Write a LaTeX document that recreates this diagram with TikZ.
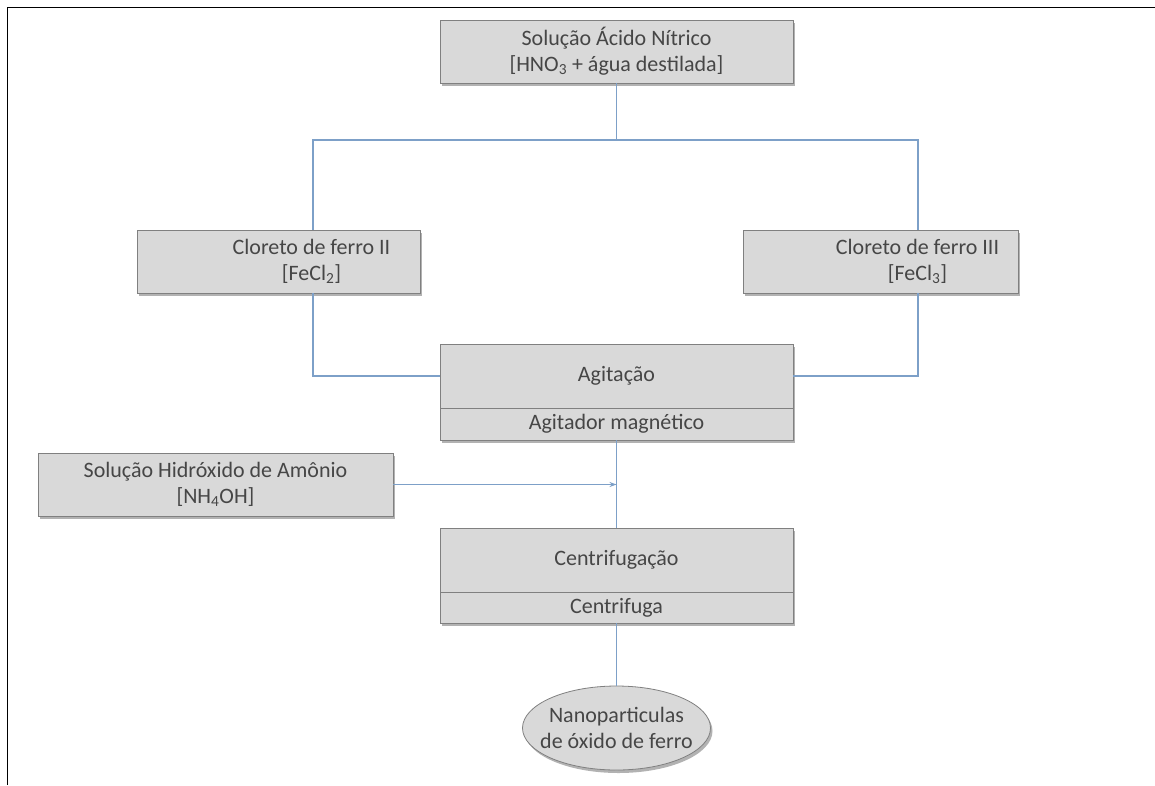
\documentclass[tikz,border=0pt]{standalone}
\usepackage{fontspec}
\setmainfont{Carlito}
\usetikzlibrary{shapes.geometric,shadows,arrows.meta}
\definecolor{boxfill}{RGB}{217,217,217}
\definecolor{boxdraw}{RGB}{128,128,128}
\definecolor{linkc}{RGB}{125,160,200}
\definecolor{txt}{RGB}{70,70,70}
\tikzset{
  boxsh/.style={drop shadow={shadow xshift=2pt,shadow yshift=-3pt,fill=black!60,opacity=0.5}},
  boxfont/.style={font=\fontsize{22}{26}\selectfont},
  procbox/.style={rectangle,draw=boxdraw,line width=0.8pt,fill=boxfill,boxsh,text=txt,align=center,inner sep=0pt,boxfont},
  inlabel/.style={text=txt,align=center,boxfont},
  link/.style={draw=linkc,line width=1.2pt},
}
\begin{document}
\begin{tikzpicture}[x=1pt,y=-1pt]
\useasboundingbox (0,0) rectangle (1155,785);
% frame
\draw[black,line width=1.6pt] (7.5,785) -- (7.5,7.5) -- (1155,7.5);
% nodes
\node[procbox,minimum width=353pt,minimum height=63pt] (acid) at (616.5,51.5) {Solução Ácido Nítrico\\{[}HNO\textsubscript{3} + água destilada{]}};
\node[procbox,minimum width=283pt,minimum height=63pt,label={[inlabel,xshift=33pt]center:Cloreto de ferro II\\{[}FeCl\textsubscript{2}{]}}] (fe2) at (278.5,261.5) {};
\node[procbox,minimum width=275pt,minimum height=63pt,label={[inlabel,xshift=37pt]center:Cloreto de ferro III\\{[}FeCl\textsubscript{3}{]}}] (fe3) at (880.5,261.5) {};
\node[procbox,minimum width=353pt,minimum height=64pt] (agit) at (616.5,376) {Agitação};
\node[procbox,minimum width=353pt,minimum height=32pt] (agitsub) at (616.5,424) {Agitador magnético};
\node[procbox,minimum width=355pt,minimum height=63pt] (nh4) at (215.5,484.5) {Solução Hidróxido de Amônio\\{[}NH\textsubscript{4}OH{]}};
\node[procbox,minimum width=353pt,minimum height=64pt] (cent) at (616.5,560) {Centrifugação};
\node[procbox,minimum width=353pt,minimum height=31pt] (centsub) at (616.5,607.5) {Centrifuga};
\node[procbox,ellipse,minimum width=188pt,minimum height=84pt,label={[inlabel]center:Nanoparticulas\\de óxido de ferro}] (nano) at (616.5,728) {};
% connectors
\coordinate (split) at (616.5,140);
\coordinate (join) at (616.5,484.5);
\draw[link] (acid.south) -- (split);
\draw[link] (fe2.north -| 313,0) |- (split) -| (fe3.north -| 918,0);
\draw[link] (fe2.south -| 313,0) |- (agit.west);
\draw[link] (fe3.south -| 918,0) |- (agit.east);
\draw[link] (agitsub.south) -- (cent.north);
\draw[link,-{Stealth[length=7pt,width=5pt]}] (nh4.east) -- (join);
\draw[link] (centsub.south) -- (nano.north);
\end{tikzpicture}
\end{document}
